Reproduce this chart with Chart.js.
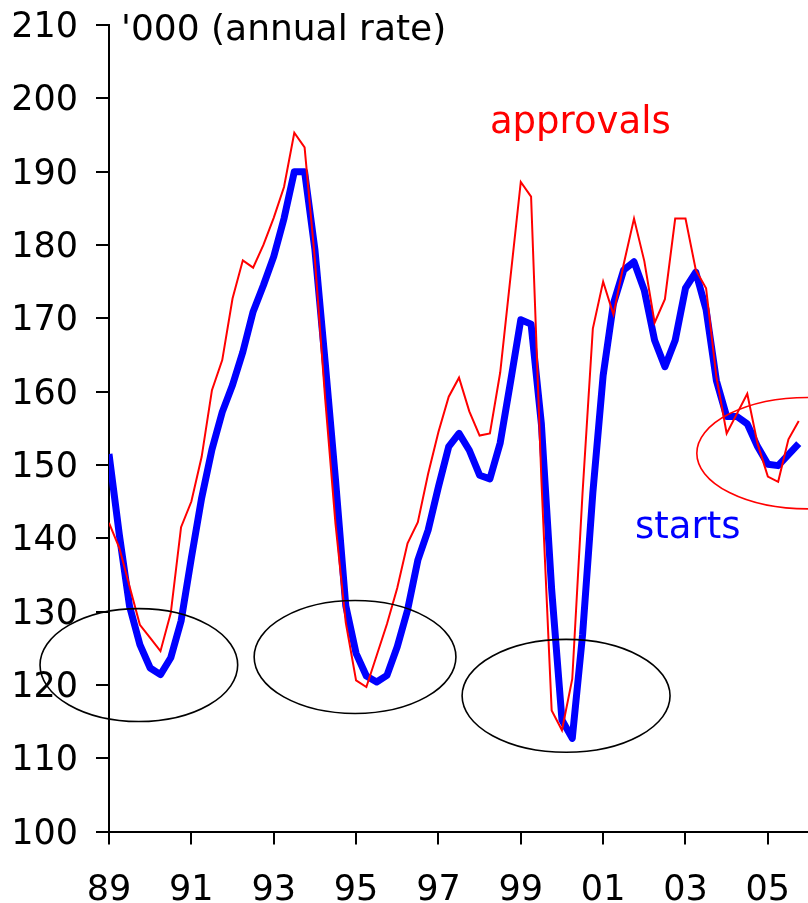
<!DOCTYPE html>
<html>
<head>
<meta charset="utf-8">
<title>Dwelling approvals and starts</title>
<script src="https://cdn.jsdelivr.net/npm/chart.js@4/dist/chart.umd.min.js"></script>
<style>
  html, body { margin: 0; padding: 0; background: #fff; }
  #chart { display: block; }
</style>
</head>
<body>
<canvas id="chart" width="808" height="903"></canvas>
<script>
// quarterly, Mar-89 to Dec-05, '000 at an annual rate
var approvals = [
  142.1, 138.7, 133.4, 128.2, 126.4, 124.6, 129.8, 141.5,
  145.0, 151.1, 160.2, 164.3, 172.7, 177.9, 176.9, 180.0,
  183.7, 187.9, 195.3, 193.3, 178.0, 159.0, 142.0, 128.5,
  120.6, 119.7, 124.0, 128.3, 133.2, 139.3, 142.2, 148.8,
  154.5, 159.3, 161.9, 157.3, 154.0, 154.3, 162.6, 175.6,
  188.6, 186.6, 148.0, 116.5, 113.8, 120.8, 146.2, 168.6,
  175.0, 170.5, 177.4, 183.6, 177.8, 169.4, 172.6, 183.6,
  183.6, 176.6, 174.1, 162.0, 154.3, 157.0, 159.7, 152.9,
  148.4, 147.7, 153.5, 156.0
];
var starts = [
  151.5, 140.5, 130.7, 125.5, 122.3, 121.4, 123.7, 128.7,
  137.3, 145.5, 152.1, 157.2, 160.9, 165.4, 170.9, 174.5,
  178.4, 183.6, 190.0, 190.0, 179.4, 164.0, 148.0, 130.8,
  124.3, 121.2, 120.4, 121.3, 125.2, 130.2, 137.0, 141.1,
  147.0, 152.5, 154.3, 152.0, 148.6, 148.1, 153.0, 161.3,
  169.8, 169.2, 155.6, 133.0, 115.2, 112.7, 126.8, 146.2,
  162.2, 172.0, 176.6, 177.7, 173.8, 167.0, 163.4, 167.0,
  174.1, 176.3, 171.2, 161.5, 156.6, 156.6, 155.6, 152.5,
  150.1, 149.9, 151.4, 152.9
];
var yearLabels = ['89', '91', '93', '95', '97', '99', '01', '03', '05'];
var quartersPerLabel = 8;

// troughs ringed on the chart (x in quarters, y in '000)
var rings = [
  { x: 2.9, y: 122.7, w: 9.6, h: 7.7, color: '#000000' },
  { x: 23.9, y: 123.8, w: 9.8, h: 7.7, color: '#000000' },
  { x: 44.4, y: 118.5, w: 10.1, h: 7.7, color: '#000000' },
  { x: 67.9, y: 151.6, w: 10.8, h: 7.6, color: '#ff0000' }
];

function toPoints(arr) {
  var pts = [];
  for (var i = 0; i < arr.length; i++) {
    pts.push({ x: i, y: arr[i] });
  }
  return pts;
}

var FONT = 'DejaVu Sans, Verdana, sans-serif';

var notes = {
  id: 'notes',
  afterDatasetsDraw: function(chart) {
    var ctx = chart.ctx;
    var xs = chart.scales.x;
    var ys = chart.scales.y;

    ctx.save();
    rings.forEach(function(r) {
      var cx = xs.getPixelForValue(r.x);
      var cy = ys.getPixelForValue(r.y);
      var rx = Math.abs(xs.getPixelForValue(r.x + r.w) - cx);
      var ry = Math.abs(ys.getPixelForValue(r.y + r.h) - cy);
      ctx.beginPath();
      ctx.ellipse(cx, cy, rx, ry, 0, 0, Math.PI * 2);
      ctx.lineWidth = 1.6;
      ctx.strokeStyle = r.color;
      ctx.stroke();
    });

    ctx.textAlign = 'left';
    ctx.textBaseline = 'alphabetic';

    ctx.font = '36px ' + FONT;
    ctx.fillStyle = '#000000';
    ctx.fillText("'000 (annual rate)", chart.chartArea.left + 12, chart.chartArea.top + 15);

    ctx.font = '37px ' + FONT;
    ctx.fillStyle = '#ff0000';
    ctx.fillText('approvals', xs.getPixelForValue(37), ys.getPixelForValue(195.3));

    ctx.fillStyle = '#0000ff';
    ctx.fillText('starts', xs.getPixelForValue(51.1), ys.getPixelForValue(140.0));
    ctx.restore();
  }
};

var ctx = document.getElementById('chart').getContext('2d');
var myChart = new Chart(ctx, {
  type: 'line',
  data: {
    datasets: [{
      label: 'approvals',
      data: toPoints(approvals),
      borderColor: '#ff0000',
      borderWidth: 2,
      pointRadius: 0,
      tension: 0,
      order: 0
    }, {
      label: 'starts',
      data: toPoints(starts),
      borderColor: '#0000ff',
      borderWidth: 7,
      borderJoinStyle: 'round',
      borderCapStyle: 'butt',
      pointRadius: 0,
      tension: 0,
      order: 1
    }]
  },
  options: {
    responsive: false,
    animation: false,
    devicePixelRatio: 1,
    layout: {
      padding: { top: 25, left: 0, right: 0, bottom: 0 }
    },
    plugins: {
      legend: { display: false },
      tooltip: { enabled: false }
    },
    scales: {
      x: {
        type: 'linear',
        min: 0,
        max: 67.9,
        afterBuildTicks: function(axis) {
          axis.ticks = yearLabels.map(function(l, k) {
            return { value: k * quartersPerLabel };
          });
        },
        afterFit: function(axis) {
          axis.height = 71.5;
          axis.paddingLeft = 0;
          axis.paddingRight = 0;
        },
        ticks: {
          autoSkip: false,
          maxRotation: 0,
          padding: 25,
          color: '#000000',
          font: { family: FONT, size: 35 },
          callback: function(value, index) {
            return yearLabels[index];
          }
        },
        grid: {
          display: true,
          drawOnChartArea: false,
          drawTicks: true,
          tickLength: 13,
          lineWidth: 2,
          color: '#000000'
        },
        border: { display: true, color: '#000000', width: 2 }
      },
      y: {
        min: 100,
        max: 210,
        afterFit: function(axis) {
          axis.width = 109;
          axis.paddingTop = 0;
          axis.paddingBottom = 0;
        },
        ticks: {
          stepSize: 10,
          padding: 18,
          labelOffset: 3,
          color: '#000000',
          font: { family: FONT, size: 35 }
        },
        grid: {
          display: true,
          drawOnChartArea: false,
          drawTicks: true,
          tickLength: 13,
          lineWidth: 2,
          color: '#000000'
        },
        border: { display: true, color: '#000000', width: 2 }
      }
    }
  },
  plugins: [notes]
});
</script>
</body>
</html>
